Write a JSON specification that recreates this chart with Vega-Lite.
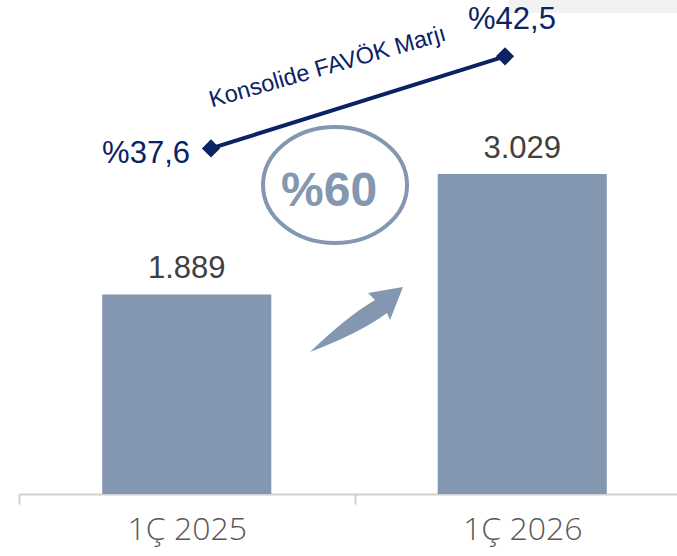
{
  "$schema": "https://vega.github.io/schema/vega-lite/v6.json",
  "width": 658,
  "height": 494,
  "autosize": "none",
  "padding": {"left": 19, "top": 0, "right": 0, "bottom": 62},
  "background": "white",
  "config": {"view": {"stroke": null}},
  "datasets": {
    "bars": [
      {"cat": "1Ç 2025", "value": 1889, "label": "1.889"},
      {"cat": "1Ç 2026", "value": 3029, "label": "3.029"}
    ],
    "margin": [
      {"cat": "1Ç 2025", "margin": 37.6, "label": "%37,6"},
      {"cat": "1Ç 2026", "margin": 42.5, "label": "%42,5"}
    ],
    "notes": [
      {"item": "band", "pos": 1.46, "pos2": 2.0, "value": 4553, "value2": 4676},
      {"item": "circle", "pos": 0.942, "value": 2925, "text": "%60"},
      {"item": "arrow", "pos": 1.006, "value": 1652}
    ]
  },
  "layer": [
    {
      "data": {"name": "notes"},
      "encoding": {
        "x": {"field": "pos", "type": "quantitative", "scale": {"domain": [0, 2], "range": [0, 671], "nice": false, "zero": false}, "axis": null},
        "y": {"field": "value", "type": "quantitative", "scale": {"domain": [0, 4676], "nice": false}, "axis": null}
      },
      "layer": [
        {
          "transform": [{"filter": "datum.item == 'band'"}],
          "mark": {"type": "rect", "color": "#f2f2f2"},
          "encoding": {"x2": {"field": "pos2"}, "y2": {"field": "value2"}}
        },
        {
          "transform": [{"filter": "datum.item == 'circle'"}],
          "mark": {"type": "point", "shape": "M -1 0 A 1 0.806 0 1 1 1 0 A 1 0.806 0 1 1 -1 0 Z", "size": 20736, "filled": false, "stroke": "#8497b0", "strokeWidth": 4, "opacity": 1}
        },
        {
          "transform": [{"filter": "datum.item == 'circle'"}],
          "mark": {"type": "text", "font": "Liberation Sans", "fontWeight": "bold", "fontSize": 48, "color": "#8497b0", "align": "center", "baseline": "middle", "dx": -6, "dy": 7},
          "encoding": {"text": {"field": "text"}}
        },
        {
          "transform": [{"filter": "datum.item == 'arrow'"}],
          "mark": {"type": "point", "shape": "M -0.989 0.691 Q -0.21 -0.06 0.394 -0.415 L 0.245 -0.564 L 0.989 -0.691 L 0.713 0.011 L 0.649 -0.138 Q 0.074 0.287 -0.989 0.691 Z", "size": 8836, "filled": true, "color": "#8497b0", "opacity": 1, "strokeWidth": 0}
        }
      ]
    },
    {
      "data": {"name": "bars"},
      "encoding": {
        "x": {
          "field": "cat", "type": "nominal", "sort": null,
          "scale": {"type": "band", "range": [0, 671], "paddingInner": 0.496, "paddingOuter": 0.248},
          "axis": {"title": null, "labelAngle": 0, "domainColor": "#d0d0d0", "domainWidth": 2, "tickColor": "#d0d0d0", "tickWidth": 2, "tickSize": 10, "tickOffset": -167.75, "labelOffset": 167.75, "labelFont": "Open Sans", "labelFontWeight": 300, "labelFontSize": 32, "labelColor": "#595959", "labelPadding": 10}
        },
        "y": {"field": "value", "type": "quantitative", "scale": {"domain": [0, 4676], "nice": false}, "axis": null}
      },
      "layer": [
        {"mark": {"type": "bar", "color": "#8497b0"}},
        {
          "mark": {"type": "text", "font": "Liberation Sans", "fontSize": 31, "color": "#404040", "baseline": "alphabetic", "dy": -16},
          "encoding": {"text": {"field": "label"}}
        }
      ]
    },
    {
      "data": {"name": "margin"},
      "encoding": {
        "x": {"field": "cat", "type": "nominal", "sort": null, "scale": {"type": "point", "range": [0, 678], "padding": 0.653}, "axis": null},
        "y": {"field": "margin", "type": "quantitative", "scale": {"domain": [19.2, 45.5], "nice": false, "zero": false}, "axis": null}
      },
      "layer": [
        {"mark": {"type": "line", "color": "#0b2364", "strokeWidth": 4}},
        {"mark": {"type": "point", "shape": "diamond", "filled": true, "opacity": 1, "size": 330, "color": "#0b2364"}},
        {
          "transform": [{"filter": "datum.margin < 40"}],
          "mark": {"type": "text", "font": "Liberation Sans", "fontSize": 31, "color": "#0b2364", "align": "right", "baseline": "alphabetic", "dx": -21, "dy": 15},
          "encoding": {"text": {"field": "label"}}
        },
        {
          "transform": [{"filter": "datum.margin > 40"}],
          "mark": {"type": "text", "font": "Liberation Sans", "fontSize": 31, "color": "#0b2364", "align": "center", "baseline": "alphabetic", "dx": 7, "dy": -27},
          "encoding": {"text": {"field": "label"}}
        },
        {
          "transform": [{"filter": "datum.margin < 40"}],
          "mark": {"type": "text", "font": "Liberation Sans", "fontSize": 23.5, "color": "#0b2364", "align": "center", "baseline": "alphabetic", "angle": -16, "dx": 134.5, "dy": -39},
          "encoding": {"text": {"value": "Konsolide FAVÖK Marjı"}}
        }
      ]
    }
  ],
  "resolve": {"scale": {"x": "independent", "y": "independent"}}
}
